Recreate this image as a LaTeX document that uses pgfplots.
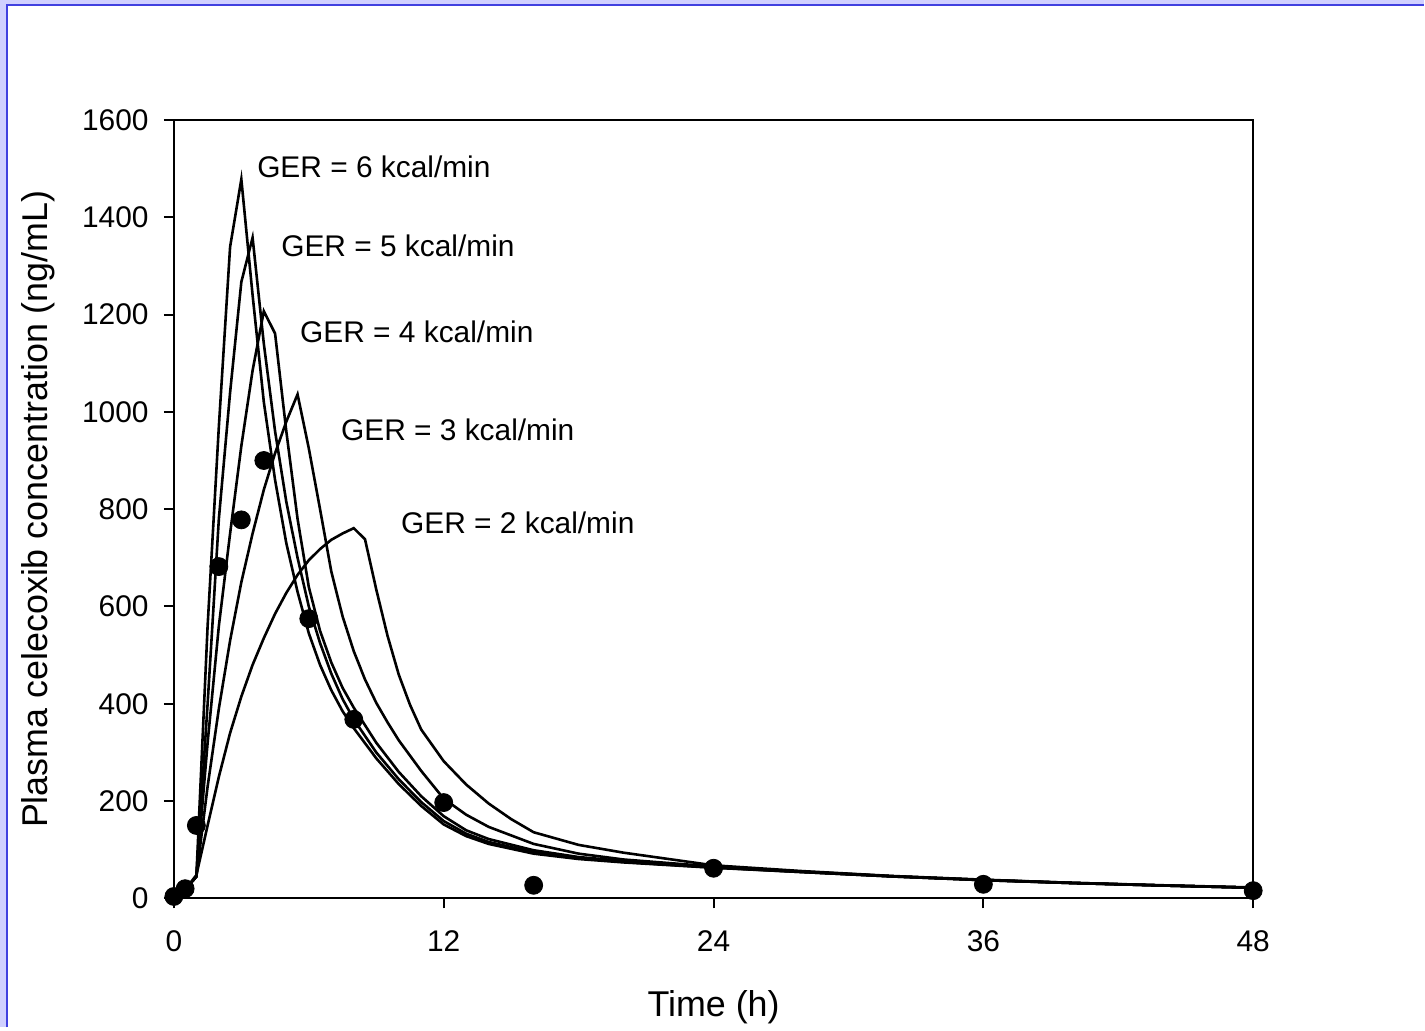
\documentclass[border=0pt]{standalone}
\usepackage{fontspec}
\setmainfont{Liberation Sans}
\usepackage{pgfplots}
\pgfplotsset{compat=1.18}
\definecolor{framefill}{RGB}{208,208,255}
\definecolor{frameline}{RGB}{64,64,224}
\begin{document}
\begin{tikzpicture}
% page frame (light blue band on the left and top)
\fill[framefill] (0,0) rectangle (712.5bp,514bp);
\fill[white] (3.6bp,0) rectangle (712.5bp,511bp);
\draw[frameline, line width=0.9bp] (3.4bp,0) -- (3.4bp,511.3bp) -- (712.5bp,511.3bp);
\begin{axis}[
    at={(87bp,64.5bp)}, anchor=south west,
    scale only axis, width=540bp, height=389.5bp,
    xmin=0, xmax=48, ymin=0, ymax=1600,
    xtick={0,12,24,36,48},
    ytick={0,200,400,600,800,1000,1200,1400,1600},
    xtick pos=left, ytick pos=left,
    tick align=outside, major tick length=5bp,
    axis line style={line width=1bp},
    every tick/.style={black, line width=1bp},
    scaled y ticks=false,
    /pgf/number format/1000 sep={},
    /pgf/number format/assume math mode=true,
    tick label style={font=\fontsize{15}{18}\selectfont},
    yticklabel style={anchor=east, inner sep=0pt, xshift=-7.5bp},
    xticklabel style={anchor=north, inner sep=0pt, yshift=-11bp},
    xlabel={Time (h)},
    ylabel={Plasma celecoxib concentration (ng/mL)},
    label style={font=\fontsize{18}{21}\selectfont},
    xlabel style={at={(axis description cs:0.5,-0.1515)}, anchor=base},
    ylabel style={at={(axis description cs:-0.1167,0.5)}, anchor=base},
    clip=false,
]
% GER = 6 kcal/min
\addplot[black, line width=1.3bp] coordinates {
    (0,0) (0.5,18) (1,45) (1.5,560) (2,970) (2.5,1339) (3,1478) (3.5,1240)
    (4,1020) (4.5,860) (5,730) (5.5,630) (6,545) (6.5,480) (7,428) (7.5,385)
    (8,350) (9,288) (10,235) (11,190) (12,152) (13,128) (14,112) (16,92)
    (18,81) (20,74) (24,63) (28,54) (32,45) (36,37.5) (40,31.5) (44,26.5) (48,22)
};
% GER = 5 kcal/min
\addplot[black, line width=1.3bp] coordinates {
    (0,0) (0.5,18) (1,45) (1.5,400) (2,780) (2.5,1040) (3,1267) (3.5,1358)
    (4,1140) (4.5,960) (5,815) (5.5,700) (6,600) (6.5,525) (7,462) (7.5,410)
    (8,368) (9,300) (10,245) (11,198) (12,159) (13,133) (14,116) (16,95)
    (18,83) (20,75) (24,63.5) (28,54) (32,45) (36,37.5) (40,31.5) (44,26.5) (48,22)
};
% GER = 4 kcal/min
\addplot[black, line width=1.3bp] coordinates {
    (0,0) (0.5,18) (1,45) (1.5,320) (2,560) (2.5,750) (3,930) (3.5,1085)
    (4,1207) (4.5,1161) (5,960) (5.5,780) (6,640) (6.5,550) (7,485) (7.5,433)
    (8,392) (9,320) (10,260) (11,210) (12,169) (13,140) (14,122) (16,99)
    (18,85) (20,77) (24,64.5) (28,54.5) (32,45.5) (36,38) (40,31.5) (44,26.5) (48,22)
};
% GER = 3 kcal/min
\addplot[black, line width=1.3bp] coordinates {
    (0,0) (0.5,18) (1,45) (1.5,230) (2,390) (2.5,530) (3,650) (3.5,750)
    (4,840) (4.5,915) (5,980) (5.5,1036) (6,925) (6.5,800) (7,672) (7.5,580)
    (8,508) (8.5,450) (9,402) (9.5,362) (10,325) (11,262) (12,205) (13,172)
    (14,147) (16,112) (18,92) (20,80) (24,65.5) (28,55) (32,45.5) (36,38)
    (40,32) (44,26.5) (48,22)
};
% GER = 2 kcal/min
\addplot[black, line width=1.3bp] coordinates {
    (0,0) (0.5,18) (1,48) (1.5,150) (2,250) (2.5,340) (3,415) (3.5,480)
    (4,535) (4.5,585) (5,628) (5.5,665) (6,695) (6.5,718) (7,737) (7.5,750)
    (8,761) (8.5,738) (9,635) (9.5,540) (10,460) (10.5,398) (11,347) (12,282)
    (13,234) (14,195) (15,163) (16,136) (18,110) (20,94) (24,68) (28,56)
    (32,46) (36,38.5) (40,32) (44,27) (48,22.5)
};
% observed
\addplot[only marks, mark=*, mark size=4.5bp, black] coordinates {
    (0,4) (0.5,20) (1,150) (2,682) (3,778) (4,900) (6,575) (8,368)
    (12,197) (16,27) (24,62) (36,29) (48,16)
};
\node[anchor=west, inner sep=0pt, font=\fontsize{15}{18}\selectfont] at (axis cs:3.69,1503) {GER = 6 kcal/min};
\node[anchor=west, inner sep=0pt, font=\fontsize{15}{18}\selectfont] at (axis cs:4.76,1341) {GER = 5 kcal/min};
\node[anchor=west, inner sep=0pt, font=\fontsize{15}{18}\selectfont] at (axis cs:5.6,1165) {GER = 4 kcal/min};
\node[anchor=west, inner sep=0pt, font=\fontsize{15}{18}\selectfont] at (axis cs:7.42,963) {GER = 3 kcal/min};
\node[anchor=west, inner sep=0pt, font=\fontsize{15}{18}\selectfont] at (axis cs:10.09,772) {GER = 2 kcal/min};
\end{axis}
\end{tikzpicture}
\end{document}
